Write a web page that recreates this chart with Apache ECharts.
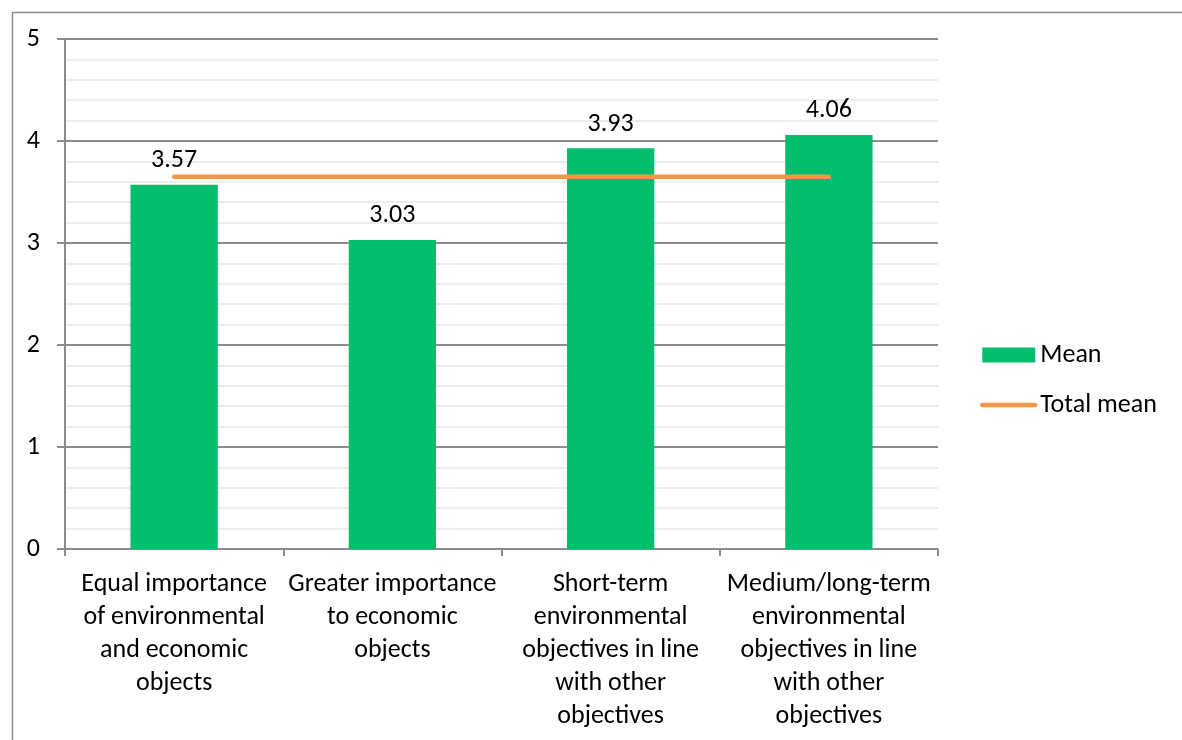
<!DOCTYPE html>
<html>
<head>
<meta charset="utf-8">
<script src="https://cdn.jsdelivr.net/npm/echarts@6/dist/echarts.min.js"></script>
<style>
  html, body { margin: 0; padding: 0; background: #fff; }
  #chart { width: 1182px; height: 740px; }
</style>
</head>
<body>
<div id="chart"></div>
<script>
// Chart data
const categories = [
  'Equal importance\nof environmental\nand economic\nobjects',
  'Greater importance\nto economic\nobjects',
  'Short-term\nenvironmental\nobjectives in line\nwith other\nobjectives',
  'Medium/long-term\nenvironmental\nobjectives in line\nwith other\nobjectives'
];
const meanValues = [3.57, 3.03, 3.93, 4.06];
const totalMean = [3.65, 3.65, 3.65, 3.65];
const yTicks = { min: 0, max: 5, interval: 1 };

const FONT = 'Carlito, Lato, "Liberation Sans", sans-serif';
const FS = 26;
const chart = echarts.init(document.getElementById('chart'), null, { renderer: 'canvas' });

chart.setOption({
  backgroundColor: '#ffffff',
  animation: false,
  textStyle: { fontFamily: FONT, color: '#000' },
  graphic: [{
    type: 'rect',
    left: 10, top: 10,
    shape: { width: 1300, height: 900 },
    style: { fill: 'none', stroke: '#8c8c8c', lineWidth: 1.5 },
    silent: true
  }],
  grid: { left: 65, right: 244, top: 39, bottom: 191, containLabel: false },
  legend: {
    orient: 'vertical',
    left: 980,
    top: 342,
    padding: 0,
    itemGap: 24,
    itemWidth: 53,
    itemHeight: 15,
    textStyle: { fontFamily: FONT, fontSize: FS, color: '#000' },
    data: [
      { name: 'Mean', icon: 'rect' },
      { name: 'Total mean', itemStyle: { opacity: 0 }, lineStyle: { width: 4.5, cap: 'round', color: '#f79646' } }
    ]
  },
  xAxis: {
    type: 'category',
    data: categories,
    axisLine: { lineStyle: { color: '#8c8c8c', width: 2 } },
    axisTick: { show: true, length: 7, alignWithLabel: false, lineStyle: { color: '#8c8c8c', width: 2 } },
    axisLabel: {
      interval: 0,
      fontFamily: FONT,
      fontSize: FS,
      lineHeight: 33,
      color: '#000',
      margin: 19
    },
    splitLine: { show: false }
  },
  yAxis: {
    type: 'value',
    min: yTicks.min,
    max: yTicks.max,
    interval: yTicks.interval,
    axisLine: { show: true, lineStyle: { color: '#8c8c8c', width: 2 } },
    axisTick: { show: true, length: 8, lineStyle: { color: '#8c8c8c', width: 2 } },
    axisLabel: { fontFamily: FONT, fontSize: FS, color: '#000', margin: 25 },
    splitLine: { show: true, lineStyle: { color: '#8c8c8c', width: 2 } },
    minorTick: { show: false, splitNumber: 5 },
    minorSplitLine: { show: true, lineStyle: { color: '#ececec', width: 2 } }
  },
  series: [
    {
      name: 'Mean',
      type: 'bar',
      data: meanValues,
      barWidth: '40%',
      itemStyle: { color: '#00be6e' },
      label: {
        show: true,
        position: 'top',
        distance: 11,
        fontFamily: FONT,
        fontSize: FS,
        color: '#000',
        formatter: p => p.value.toFixed(2)
      },
      z: 2
    },
    {
      name: 'Total mean',
      type: 'line',
      data: totalMean,
      symbol: 'none',
      showSymbol: false,
      lineStyle: { color: '#f79646', width: 4.5, cap: 'round' },
      itemStyle: { color: '#f79646' },
      z: 3
    }
  ]
});
</script>
</body>
</html>
